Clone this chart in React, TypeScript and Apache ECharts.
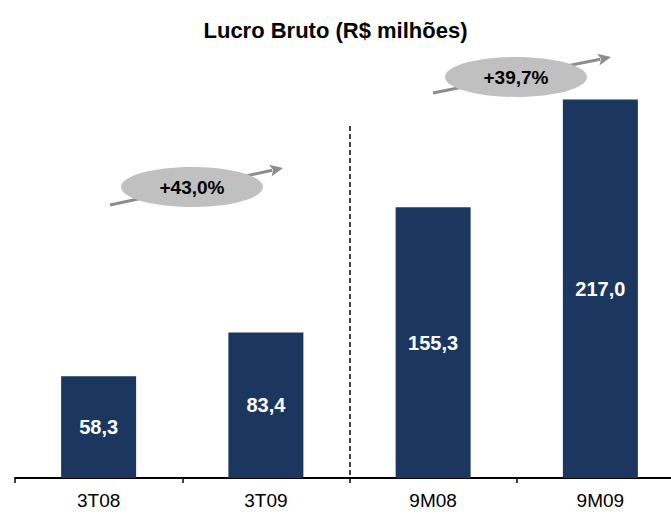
import React, { useEffect, useRef } from "react";
import * as echarts from "echarts";

const categories = ["3T08", "3T09", "9M08", "9M09"];
const values = [58.3, 83.4, 155.3, 217.0];
const growthLabels = ["+43,0%", "+39,7%"];
const titleText = "Lucro Bruto (R$ milhões)";

const ARROW_COLOR = "#8c8c8c";

function arrow(x1: number, y1: number, x2: number, y2: number) {
  const dx = x2 - x1;
  const dy = y2 - y1;
  const len = Math.sqrt(dx * dx + dy * dy);
  const ux = dx / len;
  const uy = dy / len;
  const px = -uy;
  const py = ux;
  const hl = 13;
  const hw = 6;
  const bx = x2 - ux * hl;
  const by = y2 - uy * hl;
  return [
    {
      type: "line",
      shape: { x1, y1, x2: bx + ux * 2, y2: by + uy * 2 },
      style: { stroke: ARROW_COLOR, lineWidth: 3 },
      z: 10,
    },
    {
      type: "polygon",
      shape: {
        points: [
          [x2, y2],
          [bx + px * hw, by + py * hw],
          [bx + ux * 3, by + uy * 3],
          [bx - px * hw, by - py * hw],
        ],
      },
      style: { fill: ARROW_COLOR },
      z: 10,
    },
  ];
}

function bubble(cx: number, cy: number, text: string) {
  return [
    {
      type: "ellipse",
      shape: { cx, cy, rx: 71, ry: 20 },
      style: { fill: "#c0c0c0" },
      z: 11,
    },
    {
      type: "text",
      x: cx,
      y: cy,
      style: {
        text,
        fill: "#000",
        font: "bold 19px 'Liberation Sans', Arial, sans-serif",
        align: "center",
        verticalAlign: "middle",
      },
      z: 12,
    },
  ];
}

export default function App() {
  const ref = useRef<HTMLDivElement>(null);
  useEffect(() => {
    if (!ref.current) return;
    const chart = echarts.init(ref.current, null, { renderer: "svg" });
    chart.setOption({
      animation: false,
      backgroundColor: "#fff",
      title: {
        text: titleText,
        left: "center",
        top: 14,
        textStyle: {
          fontFamily: "'Liberation Sans', Arial, sans-serif",
          fontWeight: "bold",
          fontSize: 22,
          color: "#000",
        },
      },
      grid: {
        left: 15,
        width: 669,
        top: 42,
        height: 436,
        outerBoundsMode: "none",
        containLabel: false,
      },
      xAxis: {
        type: "category",
        data: categories,
        axisLine: { lineStyle: { color: "#000", width: 2 } },
        axisTick: { show: true, length: 5, lineStyle: { color: "#000", width: 1.5 } },
        axisLabel: {
          color: "#000",
          fontSize: 19,
          margin: 13,
          fontFamily: "'Liberation Sans', Arial, sans-serif",
        },
      },
      yAxis: {
        type: "value",
        min: 0,
        max: 250,
        show: false,
        splitLine: { show: false },
      },
      series: [
        {
          type: "bar",
          data: values,
          barWidth: 75,
          itemStyle: { color: "#1b375f" },
          label: {
            show: true,
            position: "inside",
            color: "#fff",
            fontWeight: "bold",
            fontSize: 20,
            fontFamily: "'Liberation Sans', Arial, sans-serif",
            formatter: (p: any) => p.value.toFixed(1).replace(".", ","),
          },
        },
      ],
      graphic: [
        {
          type: "line",
          shape: { x1: 350, y1: 126, x2: 350, y2: 479 },
          style: { stroke: "#000", lineWidth: 1.5, lineDash: [5, 3] },
          z: 5,
        },
        ...arrow(110, 205, 283, 168),
        ...bubble(192, 187, growthLabels[0]),
        ...arrow(433, 93, 611, 57),
        ...bubble(516, 77, growthLabels[1]),
      ],
    });
    return () => chart.dispose();
  }, []);
  return (
    <div
      ref={ref}
      style={{ position: "fixed", left: 0, top: 0, width: 671, height: 520 }}
    />
  );
}
